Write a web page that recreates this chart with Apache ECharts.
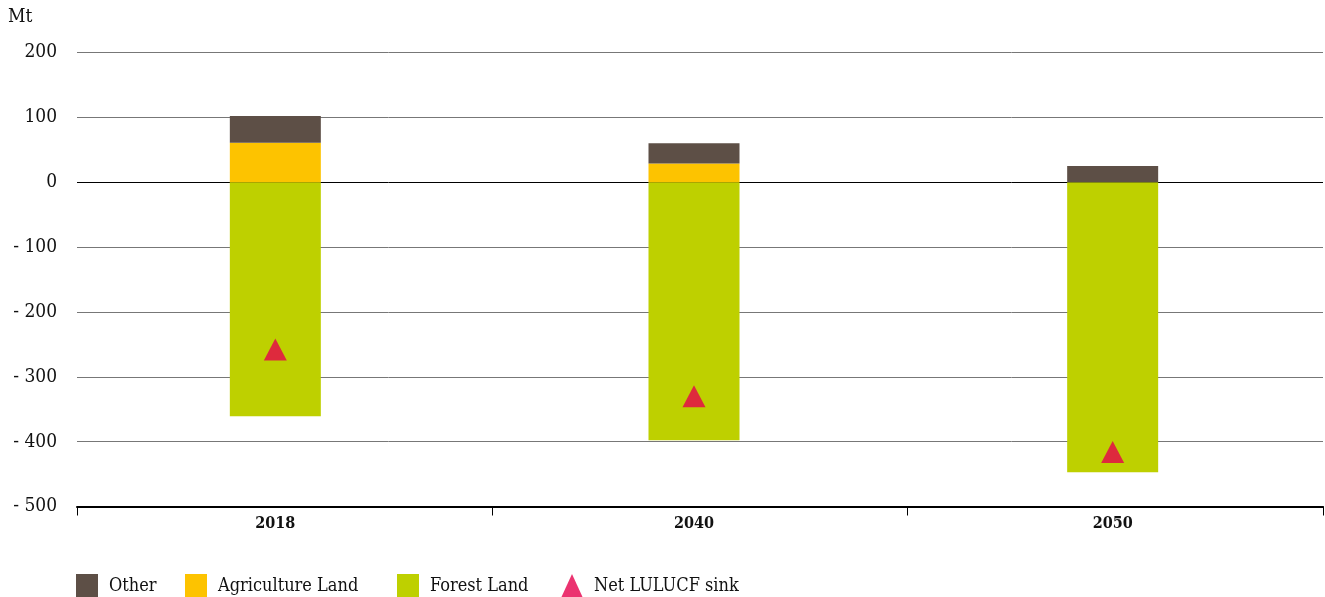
<!DOCTYPE html>
<html>
<head>
<meta charset="utf-8">
<script src="https://cdn.jsdelivr.net/npm/echarts@6/dist/echarts.min.js"></script>
<style>
html,body{margin:0;padding:0;background:#fff;}
#chart{width:1325px;height:597px;}
</style>
</head>
<body>
<div id="chart"></div>
<script>
const categories = ['2018', '2040', '2050'];
const otherValues = [41, 31, 25];
const agricultureValues = [61, 29, 0];
const forestValues = [-361, -398, -447];
const netSinkValues = [-258, -330, -416];
const yTicks = { min: -500, max: 200, interval: 100 };

const FONT = '"DejaVu Serif Condensed", "DejaVu Serif", "Liberation Serif", serif';
const colors = { other: '#5d4f46', agri: '#fdc300', forest: '#bed000', net: '#e6004c' };

const chart = echarts.init(document.getElementById('chart'));

function legendAt(left, name, icon) {
  return {
    left: left, top: 574, padding: 0,
    itemWidth: 22, itemHeight: 24,
    icon: icon,
    data: [name],
    selectedMode: false,
    textStyle: { fontFamily: FONT, fontSize: 18, color: '#111', padding: [0, 0, 0, 6] }
  };
}

chart.setOption({
  animation: false,
  backgroundColor: '#fff',
  textStyle: { fontFamily: FONT },
  title: {
    text: 'Mt', left: 8, top: 8, padding: 0,
    textStyle: { fontFamily: FONT, fontSize: 19, fontWeight: 'normal', color: '#111' }
  },
  legend: [
    legendAt(76, 'Other', 'rect'),
    legendAt(185, 'Agriculture Land', 'rect'),
    legendAt(397, 'Forest Land', 'rect'),
    legendAt(561, 'Net LULUCF sink', 'triangle')
  ],
  grid: [
    { left: 77, right: 2, top: 52.5, bottom: 90.5, containLabel: false },
    { left: 66, right: 3, top: 52.5, bottom: 90.5, containLabel: false }
  ],
  xAxis: [
    {
      type: 'category', gridIndex: 0,
      data: categories,
      boundaryGap: true,
      axisLine: { onZero: false, lineStyle: { color: '#000', width: 2 } },
      axisTick: { show: true, length: 9, lineStyle: { color: '#000', width: 1 } },
      axisLabel: { show: false }
    },
    {
      type: 'category', gridIndex: 1,
      data: categories,
      boundaryGap: true,
      axisLine: { show: false, onZero: false },
      axisTick: { show: false },
      axisLabel: { fontFamily: FONT, fontSize: 16, fontWeight: 'bold', color: '#111', margin: 9 }
    }
  ],
  yAxis: [
    {
      type: 'value', gridIndex: 0,
      min: yTicks.min, max: yTicks.max, interval: yTicks.interval,
      axisLine: { show: false },
      axisTick: { show: false },
      axisLabel: {
        fontFamily: FONT, fontSize: 19, color: '#111', margin: 20,
        formatter: v => v < 0 ? '- ' + Math.abs(v) : String(v)
      },
      splitLine: {
        lineStyle: { color: ['#777', '#777', '#777', '#777', '#777', '#000', '#777', '#777'], width: 1 }
      }
    },
    {
      type: 'value', gridIndex: 1,
      min: yTicks.min, max: yTicks.max, interval: yTicks.interval,
      axisLine: { show: false }, axisTick: { show: false },
      axisLabel: { show: false }, splitLine: { show: false }
    }
  ],
  series: [
    {
      name: 'Forest Land', type: 'bar', stack: 'lu', barWidth: 91,
      xAxisIndex: 1, yAxisIndex: 1,
      itemStyle: { color: colors.forest }, data: forestValues
    },
    {
      name: 'Agriculture Land', type: 'bar', stack: 'lu', barWidth: 91,
      xAxisIndex: 1, yAxisIndex: 1,
      itemStyle: { color: colors.agri }, data: agricultureValues
    },
    {
      name: 'Other', type: 'bar', stack: 'lu', barWidth: 91,
      xAxisIndex: 1, yAxisIndex: 1,
      itemStyle: { color: colors.other }, data: otherValues
    },
    {
      name: 'Net LULUCF sink', type: 'scatter', symbol: 'triangle', symbolSize: [23, 22],
      xAxisIndex: 1, yAxisIndex: 1,
      itemStyle: { color: colors.net }, data: netSinkValues, z: 5
    }
  ]
});
</script>
</body>
</html>
